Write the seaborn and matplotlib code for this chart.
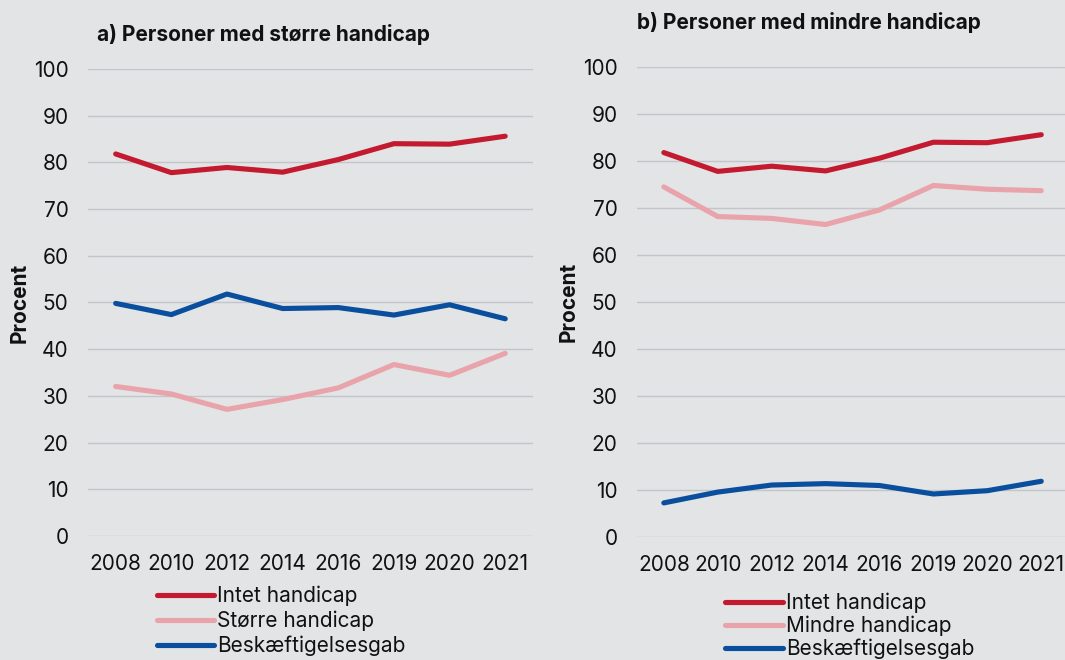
import pandas as pd
import matplotlib
matplotlib.use("Agg")
import matplotlib.pyplot as plt
import seaborn as sns

# Data (procent)
years = ['2008', '2010', '2012', '2014', '2016', '2019', '2020', '2021']
intet = [81.8, 77.8, 78.9, 77.9, 80.6, 84.0, 83.9, 85.6]
stoerre = [32.0, 30.4, 27.1, 29.2, 31.7, 36.7, 34.4, 39.1]
gab_stoerre = [49.8, 47.4, 51.8, 48.7, 48.9, 47.3, 49.5, 46.5]
mindre = [74.5, 68.2, 67.8, 66.5, 69.6, 74.8, 74.0, 73.7]
gab_mindre = [7.3, 9.6, 11.1, 11.4, 11.0, 9.2, 9.9, 11.9]

bg = '#e3e4e6'
red = '#c41a30'
pink = '#e9a3aa'
blue = '#0a4f9e'

sns.set_style('white')
plt.rcParams['font.family'] = ['Inter', 'DejaVu Sans']


def make_df(handicap_label, handicap_vals, gab_vals):
    return pd.DataFrame({
        'year': years * 3,
        'value': intet + handicap_vals + gab_vals,
        'serie': ['Intet handicap'] * 8 + [handicap_label] * 8 + ['Beskæftigelsesgab'] * 8,
    })


fig = plt.figure(figsize=(10.65, 6.6), dpi=100, facecolor=bg)
ax1 = fig.add_axes([0.0825, 0.188, 0.418, 0.7075])
ax2 = fig.add_axes([0.598, 0.186, 0.405, 0.7125])

panels = [
    (ax1, 'Større handicap', stoerre, gab_stoerre, (0.147, 0.113), 0.22),
    (ax2, 'Mindre handicap', mindre, gab_mindre, (0.681, 0.102), 0.12),
]

for ax, label, vals, gab, leg_pos, spacing in panels:
    df = make_df(label, vals, gab)
    pal = {'Intet handicap': red, label: pink, 'Beskæftigelsesgab': blue}
    sns.lineplot(data=df, x='year', y='value', hue='serie', palette=pal,
                 linewidth=3.7, ax=ax, sort=False, solid_capstyle='round')
    ax.set_facecolor(bg)
    ax.set_ylim(0, 100)
    ax.set_xlim(-0.5, 7.5)
    ax.set_yticks(range(0, 101, 10))
    ax.grid(axis='y', color='#c4c5c8', linewidth=1)
    ax.set_axisbelow(True)
    for s in ax.spines.values():
        s.set_visible(False)
    ax.tick_params(axis='y', labelsize=15, length=0, colors='#111111', pad=14)
    ax.tick_params(axis='x', labelsize=15, length=0, colors='#111111', pad=13)
    ax.set_xlabel('')
    ax.set_ylabel('Procent', fontsize=15, fontweight='bold', labelpad=3, color='#111111')
    handles, labels = ax.get_legend_handles_labels()
    for h in handles:
        h.set_solid_capstyle('round')
    ax.get_legend().remove()
    fig.legend(handles, labels, loc='upper left', bbox_to_anchor=leg_pos,
               frameon=False, fontsize=15, handlelength=2.75, handletextpad=0.15,
               labelspacing=spacing, borderaxespad=0, borderpad=0,
               labelcolor='#111111')

fig.text(0.091, 0.947, 'a) Personer med større handicap', fontsize=15,
         fontweight='bold', va='center', ha='left', color='#111111')
fig.text(0.598, 0.966, 'b) Personer med mindre handicap', fontsize=15,
         fontweight='bold', va='center', ha='left', color='#111111')

fig.savefig('out.png', dpi=100, facecolor=bg)
